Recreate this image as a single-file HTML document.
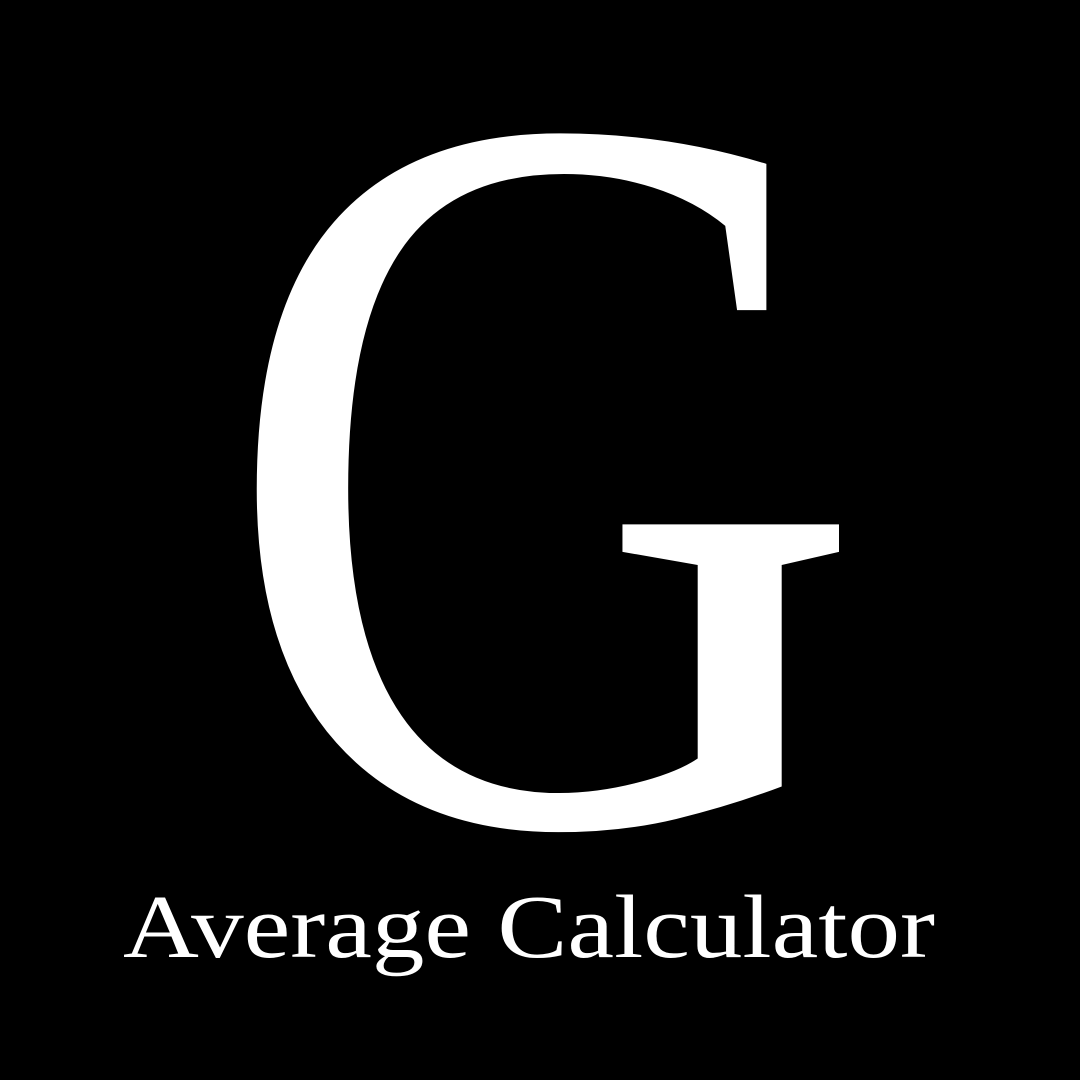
<!DOCTYPE html>
<html>
<head>
<meta charset="utf-8">
<style>
  html,body{margin:0;padding:0;background:#000;}
  svg{display:block;}
</style>
</head>
<body>
<svg width="1080" height="1080" viewBox="0 0 1080 1080" xmlns="http://www.w3.org/2000/svg">
  <rect x="0" y="0" width="1080" height="1080" fill="#000"/>
  <text x="220" y="822" font-family="'Liberation Serif', serif" font-size="1040" fill="#fff" textLength="647" lengthAdjust="spacingAndGlyphs">G</text>
  <text x="123" y="957" font-family="'Liberation Serif', serif" font-size="90" fill="#fff" textLength="812" lengthAdjust="spacingAndGlyphs">Average Calculator</text>
</svg>
</body>
</html>
